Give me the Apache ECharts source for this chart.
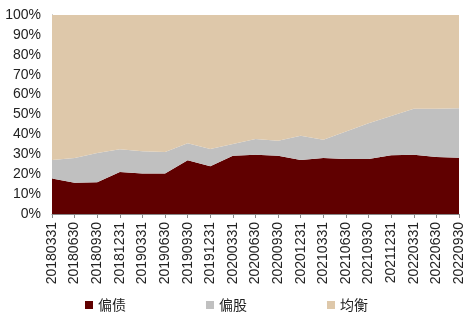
<!DOCTYPE html>
<html><head><meta charset="utf-8">
<script src="https://cdn.jsdelivr.net/npm/echarts@6/dist/echarts.min.js"></script>
<style>html,body{margin:0;padding:0;background:#fff}#c{width:470px;height:327px}</style>
</head><body><div id="c"></div>
<script>
var categories = ['20180331','20180630','20180930','20181231','20190331','20190630','20190930','20191231','20200331','20200630','20200930','20201231','20210331','20210630','20210930','20211231','20220331','20220630','20220930'];
var bond = [17.9,15.7,15.9,21.1,20.3,20.4,27.0,24.0,29.3,29.8,29.3,27.1,28.1,27.6,27.6,29.5,29.8,28.6,28.3];
var equity = [9.2,12.4,14.8,11.4,11.2,10.8,8.5,8.7,5.9,7.9,7.5,12.2,9.2,13.8,18.0,19.7,23.1,24.3,24.8];
var balanced = [72.9,71.9,69.3,67.5,68.5,68.8,64.5,67.3,64.8,62.3,63.2,60.7,62.7,58.6,54.4,50.8,47.1,47.1,46.9];
var yTicks = [0,10,20,30,40,50,60,70,80,90,100];
var names = ['偏债','偏股','均衡'];
var colors = ['#600000','#C0C0C0','#DEC8AA'];

var chart = echarts.init(document.getElementById('c'));
function mk(i, data){
  return {name:names[i], type:'line', stack:'all', data:data, symbol:'none',
    lineStyle:{width:0}, areaStyle:{color:colors[i], opacity:1}, itemStyle:{color:colors[i]}};
}
chart.setOption({
  animation:false,
  grid:{left:52, right:11, top:15, bottom:113},
  legend:{bottom:10, left:80, itemWidth:8, itemHeight:8, itemGap:80, icon:'rect',
    textStyle:{fontSize:14, color:'#222', fontFamily:'Noto Sans CJK SC'},
    data:names},
  xAxis:{type:'category', boundaryGap:false, data:categories,
    axisLine:{lineStyle:{color:'#888'}},
    axisTick:{show:true, length:4, lineStyle:{color:'#888'}},
    axisLabel:{rotate:90, interval:0, fontSize:14, color:'#222', fontFamily:'Arial, Liberation Sans', margin:8}},
  yAxis:{type:'value', min:0, max:100, interval:10,
    axisLine:{show:true, lineStyle:{color:'#888'}},
    axisTick:{show:false},
    splitLine:{show:false},
    axisLabel:{fontSize:14, color:'#222', fontFamily:'Arial, Liberation Sans', margin:11,
      formatter:function(v){return yTicks.indexOf(v)>=0 ? v+'%' : '';}}},
  series:[mk(0,bond), mk(1,equity), mk(2,balanced)]
});
</script></body></html>
